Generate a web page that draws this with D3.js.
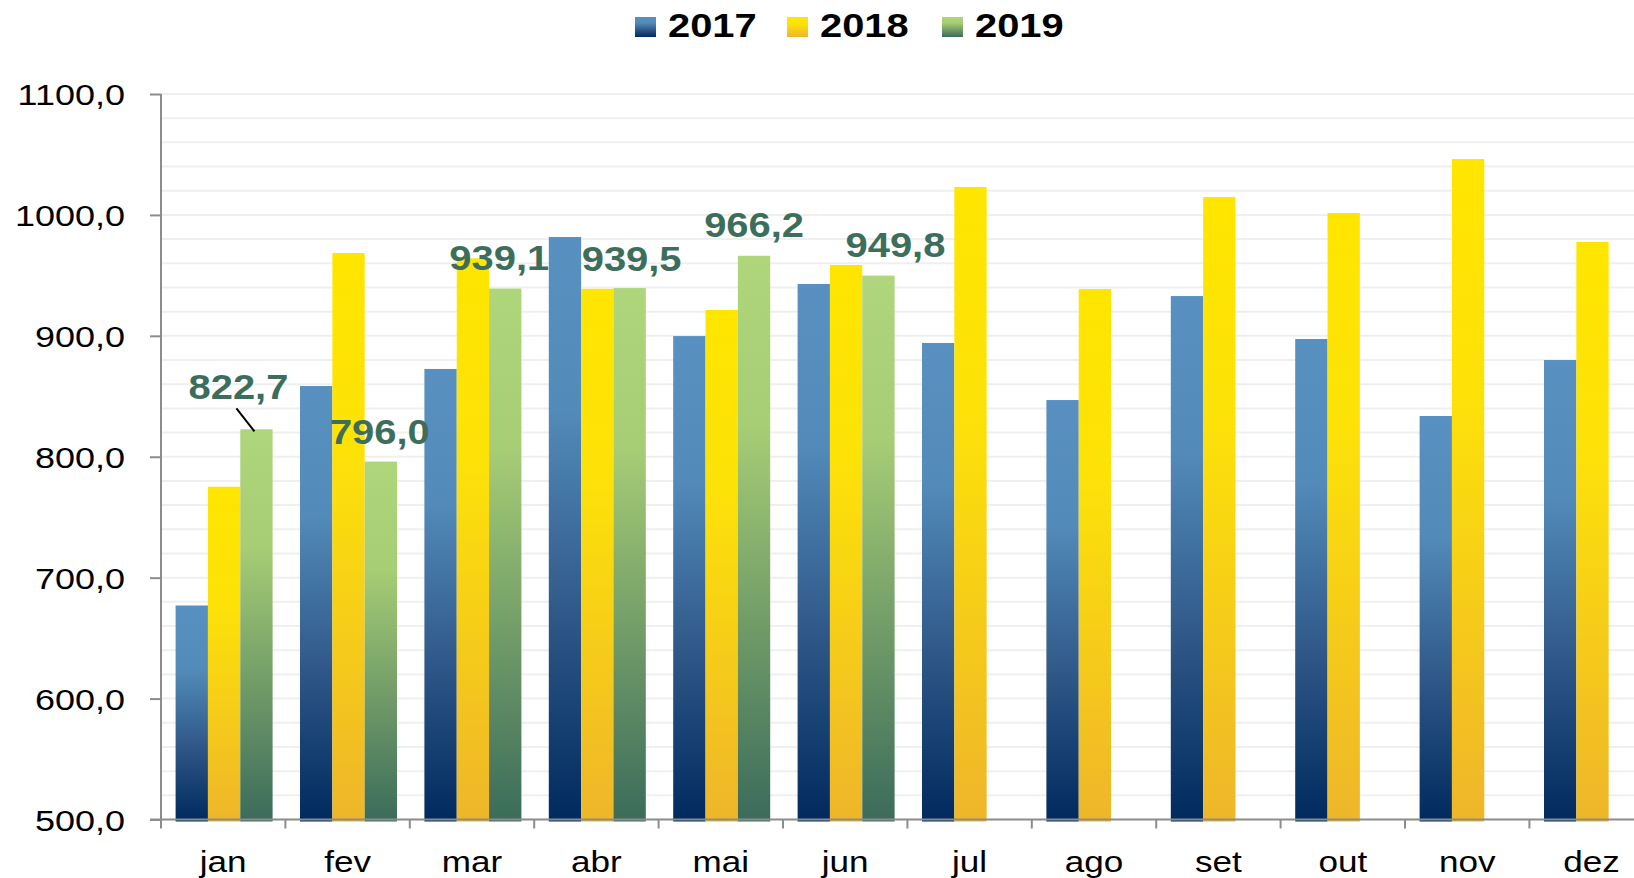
<!DOCTYPE html>
<html>
<head>
<meta charset="utf-8">
<script src="https://cdn.jsdelivr.net/npm/d3@7/dist/d3.min.js"></script>
<style>
  html, body { margin: 0; padding: 0; background: #ffffff; }
  svg { display: block; font-family: "Liberation Sans", Arial, sans-serif; }
</style>
</head>
<body>
<svg id="chart" width="1634" height="878"></svg>
<script>
// ---- data ----
const months = ["jan","fev","mar","abr","mai","jun","jul","ago","set","out","nov","dez"];
const series = ["2017","2018","2019"];
const v2017 = [677.0, 858.5, 872.6, 981.7, 899.8, 942.9, 894.1, 846.9, 932.9, 897.4, 833.7, 880.0];
const v2018 = [775.2, 968.5, 964.1, 938.9, 921.4, 958.6, 1023.1, 938.7, 1014.8, 1001.6, 1046.2, 977.6];
const v2019 = [822.7, 796.0, 939.1, 939.5, 966.2, 949.8];
const yTicks = [500, 600, 700, 800, 900, 1000, 1100];
// label nudges (layout only): [dx, dy] relative to top-centre of 2019 bar
const labelNudge = [[-18,-30],[-1,-18],[-6,-19],[2,-17],[0,-19],[17,-19]];

const values = { "2017": v2017, "2018": v2018, "2019": v2019 };
const gradStops = {
  "2017": [[0,"#5891c1"],[0.3,"#528ab9"],[0.65,"#2f5888"],[1,"#002a5e"]],
  "2018": [[0,"#ffe600"],[0.35,"#fde208"],[1,"#eeb62a"]],
  "2019": [[0,"#afd67b"],[0.3,"#a7cd75"],[1,"#3b6b5b"]]
};

(function () {
const svg = d3.select("#chart");
const pLeft = 161, bandW = 124.4, pTop = 94, pBottom = 819.5;
const pRight = pLeft + bandW * months.length;

const x0 = d3.scaleBand().domain(months).range([pLeft, pRight]).padding(0);
const x1 = d3.scaleBand().domain(series).range([14.6, 111.6]).padding(0);
const y = d3.scaleLinear().domain([500, 1100]).range([pBottom, pTop]);

const fmt = v => d3.format(".1f")(v).replace(".", ",");

// gradients
const defs = svg.append("defs");
series.forEach(s => {
  const g = defs.append("linearGradient").attr("id", "g" + s)
    .attr("x1", 0).attr("y1", 0).attr("x2", 0).attr("y2", 1);
  gradStops[s].forEach(([o, c]) => g.append("stop").attr("offset", o).attr("stop-color", c));
});

// gridlines every 20
const gridVals = d3.range(520, 1101, 20);
svg.append("g").selectAll("line").data(gridVals).join("line")
  .attr("x1", pLeft).attr("x2", 1634)
  .attr("y1", d => y(d)).attr("y2", d => y(d))
  .attr("stroke", "#efefef").attr("stroke-width", 2);

// bars
const bars = [];
series.forEach(s => values[s].forEach((v, i) => bars.push({ s, m: months[i], v })));
svg.append("g").selectAll("rect").data(bars).join("rect")
  .attr("x", d => x0(d.m) + x1(d.s))
  .attr("width", x1.bandwidth())
  .attr("y", d => y(d.v))
  .attr("height", d => pBottom + 2 - y(d.v))
  .attr("fill", d => "url(#g" + d.s + ")");

// y axis
const yAxis = d3.axisLeft(y).tickValues(yTicks).tickSize(11).tickPadding(0).tickFormat(fmt);
const gy = svg.append("g").attr("transform", `translate(${pLeft},0)`).call(yAxis);
gy.select(".domain").attr("stroke", "#8c8c8c").attr("stroke-width", 2).attr("d", `M0,${pTop}V${pBottom}`);
gy.selectAll(".tick line").attr("stroke", "#8c8c8c").attr("stroke-width", 2);
gy.selectAll(".tick text")
  .attr("x", 0).attr("dy", "0.35em")
  .attr("text-anchor", "end")
  .attr("transform", "translate(-36,0) scale(1.2,1)")
  .attr("font-size", 30)
  .attr("fill", "#000").attr("font-family", "Liberation Sans, Arial, sans-serif");

// x axis
const gx = svg.append("g").attr("transform", `translate(0,${pBottom})`);
gx.append("line").attr("x1", pLeft - 11).attr("x2", 1634).attr("y1", 0).attr("y2", 0)
  .attr("stroke", "#8c8c8c").attr("stroke-width", 2);
gx.selectAll("line.tk").data(months).join("line").attr("class", "tk")
  .attr("x1", d => x0(d)).attr("x2", d => x0(d)).attr("y1", 0).attr("y2", 9)
  .attr("stroke", "#8c8c8c").attr("stroke-width", 2);
gx.selectAll("text").data(months).join("text")
  .attr("transform", d => `translate(${x0(d) + x0.bandwidth() / 2},52) scale(1.17,1)`)
  .attr("text-anchor", "middle")
  .attr("font-size", 30)
  .attr("fill", "#000")
  .text(d => d);

// data labels for 2019
const lab = svg.append("g");
v2019.forEach((v, i) => {
  const cx = x0(months[i]) + x1("2019") + x1.bandwidth() / 2;
  const [dx, dy] = labelNudge[i];
  lab.append("text")
    .attr("transform", `translate(${cx + dx},${y(v) + dy}) scale(1.14,1)`)
    .attr("text-anchor", "middle")
    .attr("font-size", 35).attr("font-weight", "bold")
    .attr("fill", "#3d6e5c")
    .text(fmt(v));
});
// leader line for jan
{
  const cx = x0(months[0]) + x1("2019") + x1.bandwidth() / 2;
  lab.append("line")
    .attr("x1", cx - 20).attr("y1", y(v2019[0]) - 21)
    .attr("x2", cx - 2).attr("y2", y(v2019[0]) + 2)
    .attr("stroke", "#000").attr("stroke-width", 2);
}

// legend
const legX = [635, 787, 942];
const leg = svg.append("g");
series.forEach((s, i) => {
  leg.append("rect").attr("x", legX[i]).attr("y", 17).attr("width", 21).attr("height", 20)
    .attr("fill", "url(#g" + s + ")");
  leg.append("text")
    .attr("transform", `translate(${legX[i] + 33},37) scale(1.19,1)`)
    .attr("font-size", 33.5).attr("font-weight", "bold")
    .attr("fill", "#000").text(s);
});
})();
</script>
</body>
</html>
